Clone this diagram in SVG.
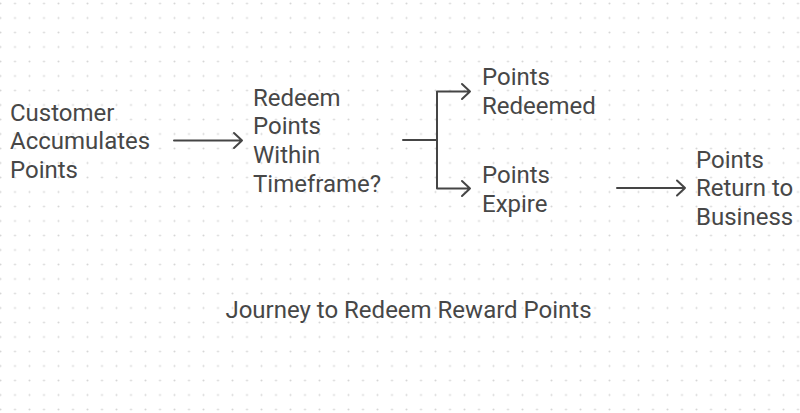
<svg xmlns="http://www.w3.org/2000/svg" width="800" height="413" viewBox="0 0 800 413">
<defs>
<pattern id="dots" x="7.75" y="-3.75" width="14.5" height="14.5" patternUnits="userSpaceOnUse">
<circle cx="7.25" cy="7.25" r="1" fill="#d6d6d6"/>
</pattern>
<style>
.t{font-family:Roboto,"Liberation Sans",sans-serif;font-size:24px;fill:#474747}
.c{fill:none;stroke:#454545;stroke-width:2;stroke-linecap:round;stroke-linejoin:round}
</style>
</defs>
<rect width="800" height="413" fill="#ffffff"/>
<rect width="800" height="413" fill="url(#dots)"/>
<g id="customer">
<text class="t" x="10" y="120.5">Customer</text>
<text class="t" x="10" y="149.3">Accumulates</text>
<text class="t" x="10" y="178.1">Points</text>
</g>
<g id="redeem-decision">
<text class="t" x="253" y="105.5">Redeem</text>
<text class="t" x="253" y="134.3">Points</text>
<text class="t" x="253" y="163.1">Within</text>
<text class="t" x="253" y="191.9">Timeframe?</text>
</g>
<g id="points-redeemed">
<text class="t" x="482" y="85">Points</text>
<text class="t" x="482" y="113.8">Redeemed</text>
</g>
<g id="points-expire">
<text class="t" x="482" y="183">Points</text>
<text class="t" x="482" y="211.8">Expire</text>
</g>
<g id="points-return">
<text class="t" x="696" y="167.5">Points</text>
<text class="t" x="696" y="196.3">Return to</text>
<text class="t" x="696" y="225.1">Business</text>
</g>
<g id="title">
<text class="t" x="408.5" y="317.5" text-anchor="middle">Journey to Redeem Reward Points</text>
</g>
<g id="connectors">
<path class="c" d="M174 140.5H242M234 133L242 140.5L234 148"/>
<path class="c" d="M403 140H437M437 91.5V188.5M437 91.5H470M462 84L470 91.5L462 99M437 188.5H470M462 181L470 188.5L462 196"/>
<path class="c" d="M617 188H685M677 180.5L685 188L677 195.5"/>
</g>
</svg>
